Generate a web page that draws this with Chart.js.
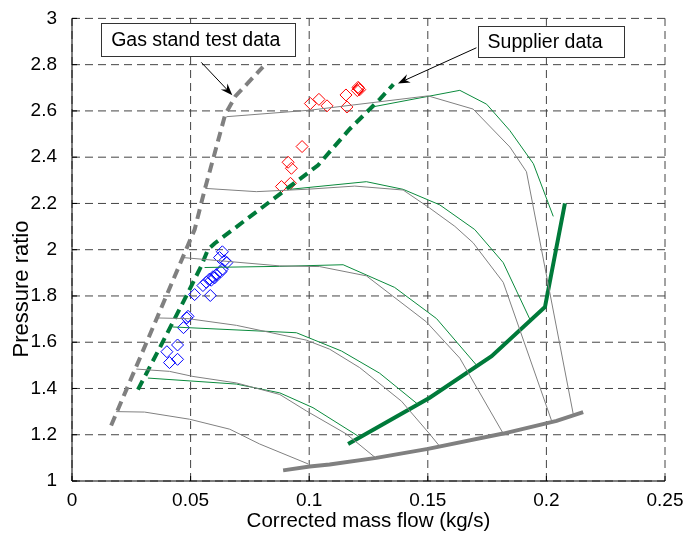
<!DOCTYPE html>
<html>
<head>
<meta charset="utf-8">
<script src="https://cdn.jsdelivr.net/npm/chart.js@4.4.1/dist/chart.umd.min.js"></script>
<style>
  body { margin: 0; background: #fff; }
  canvas { display: block; }
</style>
</head>
<body>
<canvas id="mapChart" width="699" height="538"></canvas>
<script>
// axis ticks
var xTicks = [0, 0.05, 0.1, 0.15, 0.2, 0.25];
var yTicks = [1, 1.2, 1.4, 1.6, 1.8, 2, 2.2, 2.4, 2.6, 2.8, 3];

// surge lines [mass flow, pressure ratio]
var gasStandSurge = [[0.0165,1.24],[0.046,1.95],[0.0517,2.087],[0.0559,2.258],[0.0601,2.415],[0.0646,2.585],[0.069,2.665],[0.0805,2.79]];
var supplierSurge = [[0.0278,1.395],[0.0362,1.56],[0.0482,1.80],[0.0545,1.93],[0.0573,2.0],[0.0601,2.027],[0.1037,2.365],[0.1171,2.522],[0.1297,2.65],[0.1355,2.715]];

// choke line and operating line
var chokeLine = [[0.089,1.046],[0.1002,1.063],[0.1086,1.071],[0.1283,1.10],[0.1501,1.139],[0.1818,1.205],[0.2043,1.26],[0.2155,1.298]];
var operatingLine = [[0.1164,1.16],[0.1508,1.36],[0.1769,1.54],[0.1994,1.752],[0.2078,2.2]];

// speed lines, gas stand
var gasSpeed1 = [[0.0186,1.30],[0.0306,1.298],[0.0496,1.267],[0.0665,1.224],[0.0791,1.16],[0.0995,1.074]];
var gasSpeed2 = [[0.0271,1.484],[0.0411,1.474],[0.051,1.452],[0.0693,1.424],[0.0876,1.374],[0.0988,1.303],[0.1157,1.203],[0.128,1.10]];
var gasSpeed3 = [[0.0355,1.705],[0.0489,1.702],[0.0693,1.673],[0.0988,1.609],[0.1086,1.57],[0.1213,1.49],[0.1389,1.345],[0.1508,1.203],[0.155,1.15]];
var gasSpeed4 = [[0.0468,1.966],[0.0876,1.93],[0.1044,1.927],[0.1241,1.887],[0.1494,1.688],[0.1635,1.531],[0.1818,1.205]];
var gasSpeed5 = [[0.0562,2.265],[0.0777,2.251],[0.1002,2.262],[0.1192,2.275],[0.1396,2.258],[0.1508,2.18],[0.1614,2.101],[0.1691,2.03],[0.1818,1.859],[0.2022,1.26]];
var gasSpeed6 = [[0.0651,2.575],[0.1002,2.603],[0.1501,2.665],[0.1691,2.608],[0.1846,2.444],[0.1916,2.337],[0.2113,1.29]];

// speed lines, supplier
var supSpeed2 = [[0.032,1.445],[0.0693,1.419],[0.0876,1.381],[0.1016,1.317],[0.1205,1.195]];
var supSpeed3 = [[0.0425,1.666],[0.0946,1.641],[0.1136,1.562],[0.1297,1.466],[0.1459,1.331]];
var supSpeed4 = [[0.0559,1.923],[0.0876,1.928],[0.1143,1.935],[0.136,1.837],[0.1537,1.702],[0.1706,1.50]];
var supSpeed5 = [[0.0918,2.261],[0.1241,2.294],[0.1396,2.261],[0.155,2.194],[0.1698,2.087],[0.1818,1.944],[0.193,1.70]];
var supSpeed6 = [[0.1255,2.615],[0.1635,2.689],[0.1748,2.629],[0.1846,2.515],[0.1945,2.372],[0.2029,2.144]];

// measured points
var highSpeedPts = [[0.0883,2.273],[0.0921,2.287],[0.0911,2.378],[0.0925,2.352],[0.097,2.446],[0.1005,2.632],[0.1041,2.65],[0.1075,2.622],[0.1155,2.669],[0.1159,2.617],[0.1203,2.688],[0.1208,2.697],[0.1213,2.692],[0.1206,2.702]];
var lowSpeedPts = [[0.0634,1.991],[0.0622,1.966],[0.0643,1.952],[0.0653,1.944],[0.0634,1.916],[0.0628,1.905],[0.0608,1.892],[0.0594,1.883],[0.058,1.873],[0.0566,1.859],[0.0552,1.845],[0.0587,1.868],[0.0601,1.878],[0.0583,1.802],[0.0517,1.806],[0.0489,1.712],[0.0484,1.705],[0.047,1.663],[0.0445,1.588],[0.04,1.559],[0.0445,1.526],[0.0411,1.512]];

var FONT = "'Liberation Sans', Arial, Helvetica, sans-serif";
var GRAY = '#808080';
var GREEN = '#007a3a';
var THIN_GREEN = '#0a8a3c';

function pts(arr) {
    return arr.map(function (p) { return { x: p[0], y: p[1] }; });
}

function line(arr, color, width, dash) {
    return {
        data: pts(arr),
        showLine: true,
        borderColor: color,
        borderWidth: width,
        borderDash: dash || [],
        pointRadius: 0,
        fill: false,
        tension: 0
    };
}

function markers(arr, color) {
    return {
        data: pts(arr),
        showLine: false,
        pointStyle: 'rectRot',
        pointRadius: 6,
        pointBorderColor: color,
        pointBackgroundColor: 'rgba(0,0,0,0)',
        pointBorderWidth: 1
    };
}

// dashed grid, solid left/bottom axes with inward ticks, y label
var matlabAxes = {
    id: 'matlabAxes',
    beforeDatasetsDraw: function (chart) {
        var c = chart.ctx, a = chart.chartArea;
        var xs = chart.scales.x, ys = chart.scales.y;
        c.save();
        c.strokeStyle = '#444';
        c.lineWidth = 1;
        c.setLineDash([8, 5]);
        xTicks.forEach(function (v) {
            var px = xs.getPixelForValue(v);
            c.beginPath(); c.moveTo(px, a.bottom); c.lineTo(px, a.top); c.stroke();
        });
        yTicks.forEach(function (v) {
            var py = ys.getPixelForValue(v);
            c.beginPath(); c.moveTo(a.left, py); c.lineTo(a.right, py); c.stroke();
        });
        c.restore();
    },
    afterDatasetsDraw: function (chart) {
        var c = chart.ctx, a = chart.chartArea;
        var xs = chart.scales.x, ys = chart.scales.y;
        c.save();
        c.strokeStyle = '#000';
        c.lineWidth = 1;
        c.beginPath();
        c.moveTo(a.left, a.top); c.lineTo(a.left, a.bottom); c.lineTo(a.right, a.bottom);
        c.stroke();
        xTicks.forEach(function (v) {
            var px = xs.getPixelForValue(v);
            c.beginPath(); c.moveTo(px, a.bottom); c.lineTo(px, a.bottom - 5); c.stroke();
        });
        yTicks.forEach(function (v) {
            var py = ys.getPixelForValue(v);
            c.beginPath(); c.moveTo(a.left, py); c.lineTo(a.left + 5, py); c.stroke();
        });

        c.translate(22, ys.getPixelForValue(1.83));
        c.rotate(-Math.PI / 2);
        c.fillStyle = '#000';
        c.font = '22px ' + FONT;
        c.textAlign = 'center';
        c.textBaseline = 'middle';
        c.fillText('Pressure ratio', 0, 0);
        c.restore();
    }
};

// text boxes with arrows, placed in data units
var callouts = [
    { text: 'Gas stand test data', box: [0.0123, 2.978, 0.0939, 2.836], from: [0.0545, 2.81], to: [0.0676, 2.668] },
    { text: 'Supplier data', box: [0.171, 2.968, 0.2327, 2.833], from: [0.1705, 2.873], to: [0.1374, 2.719] }
];

var calloutPlugin = {
    id: 'callouts',
    afterDraw: function (chart) {
        var c = chart.ctx, xs = chart.scales.x, ys = chart.scales.y;
        c.save();
        callouts.forEach(function (k) {
            var x0 = xs.getPixelForValue(k.box[0]), y0 = ys.getPixelForValue(k.box[1]);
            var x1 = xs.getPixelForValue(k.box[2]), y1 = ys.getPixelForValue(k.box[3]);
            c.fillStyle = '#fff';
            c.fillRect(x0, y0, x1 - x0, y1 - y0);
            c.strokeStyle = '#333';
            c.lineWidth = 1;
            c.strokeRect(Math.round(x0) + 0.5, Math.round(y0) + 0.5, Math.round(x1 - x0), Math.round(y1 - y0));
            c.fillStyle = '#000';
            c.font = '19.5px ' + FONT;
            c.textBaseline = 'middle';
            c.textAlign = 'left';
            c.fillText(k.text, x0 + 10, (y0 + y1) / 2 + 1);

            // arrow
            var ax = xs.getPixelForValue(k.from[0]), ay = ys.getPixelForValue(k.from[1]);
            var bx = xs.getPixelForValue(k.to[0]), by = ys.getPixelForValue(k.to[1]);
            var ang = Math.atan2(by - ay, bx - ax);
            c.strokeStyle = '#000';
            c.beginPath(); c.moveTo(ax, ay); c.lineTo(bx - 6 * Math.cos(ang), by - 6 * Math.sin(ang)); c.stroke();
            var L = 12, W = 4.5;
            c.beginPath();
            c.moveTo(bx, by);
            c.lineTo(bx - L * Math.cos(ang) + W * Math.sin(ang), by - L * Math.sin(ang) - W * Math.cos(ang));
            c.lineTo(bx - 8 * Math.cos(ang), by - 8 * Math.sin(ang));
            c.lineTo(bx - L * Math.cos(ang) - W * Math.sin(ang), by - L * Math.sin(ang) + W * Math.cos(ang));
            c.closePath();
            c.fill();
        });
        c.restore();
    }
};

function fmt(v) {
    return String(Math.round(v * 100) / 100);
}

var ctx = document.getElementById('mapChart').getContext('2d');

var mapChart = new Chart(ctx, {
    type: 'scatter',
    data: {
        datasets: [
            line(gasSpeed1, GRAY, 1),
            line(gasSpeed2, GRAY, 1),
            line(gasSpeed3, GRAY, 1),
            line(gasSpeed4, GRAY, 1),
            line(gasSpeed5, GRAY, 1),
            line(gasSpeed6, GRAY, 1),
            line(supSpeed2, THIN_GREEN, 1),
            line(supSpeed3, THIN_GREEN, 1),
            line(supSpeed4, THIN_GREEN, 1),
            line(supSpeed5, THIN_GREEN, 1),
            line(supSpeed6, THIN_GREEN, 1),
            line(chokeLine, GRAY, 4),
            line(operatingLine, GREEN, 4),
            line(gasStandSurge, GRAY, 4, [10, 6]),
            line(supplierSurge, GREEN, 4, [10, 6]),
            markers(highSpeedPts, '#ff0000'),
            markers(lowSpeedPts, '#0000ff')
        ]
    },
    options: {
        responsive: false,
        animation: false,
        layout: { padding: { top: 13, right: 34, left: 0, bottom: 0 } },
        plugins: {
            legend: { display: false },
            tooltip: { enabled: false }
        },
        scales: {
            x: {
                type: 'linear',
                min: 0,
                max: 0.25,
                grid: { display: false },
                border: { display: false },
                afterBuildTicks: function (s) { s.ticks = xTicks.map(function (v) { return { value: v }; }); },
                afterFit: function (s) { s.height = 57; },
                ticks: { color: '#000', padding: 0, maxRotation: 0, font: { family: FONT, size: 19 }, callback: fmt },
                title: { display: true, text: 'Corrected mass flow (kg/s)', color: '#000', font: { family: FONT, size: 20.5 }, padding: { top: 0, bottom: 4 } }
            },
            y: {
                type: 'linear',
                min: 1,
                max: 3,
                grid: { display: false },
                border: { display: false },
                afterBuildTicks: function (s) { s.ticks = yTicks.map(function (v) { return { value: v }; }); },
                afterFit: function (s) { s.width = 72; },
                ticks: { color: '#000', padding: 7, font: { family: FONT, size: 19 }, callback: fmt },
                title: { display: false }
            }
        }
    },
    plugins: [matlabAxes, calloutPlugin]
});
</script>
</body>
</html>
